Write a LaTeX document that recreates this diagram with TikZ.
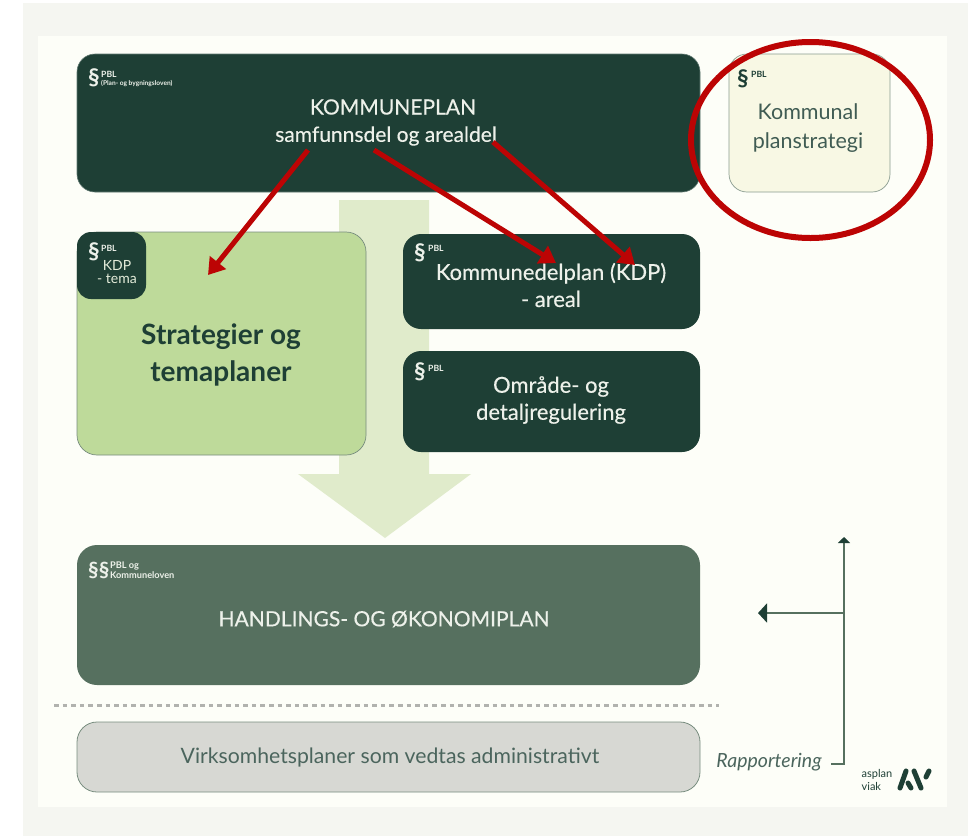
\documentclass[tikz,border=0pt]{standalone}
\usepackage{fontspec}
\setmainfont{Lato}
\newfontfamily\medf[FakeBold=0.35]{Lato}
\usetikzlibrary{arrows.meta}
\definecolor{dark}{HTML}{1E3F35}
\definecolor{midg}{HTML}{56705F}
\definecolor{lime}{HTML}{BEDA9A}
\definecolor{pale}{HTML}{E0EBCB}
\definecolor{cream}{HTML}{F8F8E4}
\definecolor{greyb}{HTML}{D7D8D3}
\definecolor{paper}{HTML}{FDFEF8}
\definecolor{outerp}{HTML}{F5F6F1}
\definecolor{redc}{HTML}{BC0404}
\definecolor{txt}{HTML}{EDF1EA}
\tikzset{x=1pt,y=-1pt,
 panel/.style={rounded corners=#1,inner sep=0pt,outer sep=0pt},
 boxtext/.style={align=center,text=txt,font=\medf\fontsize{22}{27}\selectfont,inner sep=0pt},
 para/.style={anchor=west,text=txt,font=\bfseries\fontsize{23}{23}\selectfont,inner sep=0pt},
 small/.style={anchor=west,text=txt,font=\bfseries\fontsize{8.6}{9}\selectfont,inner sep=0pt,align=left},
 redarrow/.style={draw=redc,line width=5pt,-{Triangle[length=16pt,width=20pt]}},
 reportline/.style={draw=midg,line width=1.6pt},
 logostroke/.style={dark,line width=5pt,line cap=round}}
\begin{document}
\begin{tikzpicture}
\useasboundingbox (0,0) rectangle (968,836);
\fill[white] (0,0) rectangle (968,836);
\fill[outerp] (23,3) rectangle (968,836);
\fill[paper] (38,36) rectangle (947,807);
% big pale arrow
\fill[pale] (339,200) -- (429,200) -- (429,474) -- (471,474) -- (385,538) -- (298,474) -- (339,474) -- cycle;
% boxes
\draw[panel=18pt,fill=dark,draw=dark!70!white,line width=.6pt] (77,54) rectangle (700,192);
\coordinate (kpA) at (308,150);
\coordinate (kpB) at (374,150);
\coordinate (kpC) at (493,142);
\node[boxtext,font=\medf\fontsize{21}{24}\selectfont] (kp) at (393,107) {KOMMUNEPLAN};
\node[boxtext,font=\medf\fontsize{21}{24}\selectfont] (kp2) at (386,136) {samfunnsdel og arealdel};
\node[para] (kps) at (88,78) {§};
\node[small] (kpp) at (101,74) {PBL};
\node[small,font=\bfseries\fontsize{6.6}{7}\selectfont] (kpq) at (101,84) {(Plan- og bygningsloven)};

\draw[panel=18pt,fill=cream,draw=midg!70!white,line width=.7pt] (729,54) rectangle (890,192);
\node[para,text=dark] (ss) at (737,79) {§};
\node[small,text=dark] (sp) at (751,74) {PBL};
\node[boxtext,text=dark!85!white,font=\fontsize{21.5}{29}\selectfont] (ks) at (808,128) {Kommunal\\planstrategi};

\draw[panel=20pt,fill=lime,draw=midg!80!white,line width=.7pt] (77,232) rectangle (366,455);
\draw[panel=14pt,fill=dark,draw=none] (77,232) rectangle (146,299);
\node[para] (ts) at (88,252) {§};
\node[small] (tp) at (101,248) {PBL};
\node[align=center,text=txt!80!lime,font=\fontsize{14}{13}\selectfont,inner sep=0pt] (tk) at (117,272) {KDP\\- tema};
\node[align=center,text=dark,font=\bfseries\fontsize{28}{37}\selectfont,inner sep=0pt] (st) at (221,355) {Strategier og\\temaplaner};
\coordinate (stT) at (208,275);

\draw[panel=18pt,fill=dark,draw=none] (403,234) rectangle (700,329);
\node[para] (as) at (414,253) {§};
\node[small] (ap) at (428,248) {PBL};
\node[boxtext] (kdp) at (551,285) {Kommunedelplan (KDP)\\- areal};
\coordinate (kdpA) at (556,263);
\coordinate (kdpB) at (635,265);

\draw[panel=18pt,fill=dark,draw=none] (403,351) rectangle (700,452);
\node[para] (os) at (414,372) {§};
\node[small] (op) at (428,368) {PBL};
\node[boxtext] (od) at (551,400) {Område- og\\detaljregulering};

\draw[panel=20pt,fill=midg,draw=none] (77,545) rectangle (700,685);
\node[para,font=\bfseries\fontsize{21}{21}\selectfont] (hs) at (88,570) {§§};
\node[small,font=\bfseries\fontsize{9.2}{10.5}\selectfont] (hp) at (110,570) {PBL og\\Kommuneloven};
\node[boxtext,font=\medf\fontsize{21}{24}\selectfont] (hp2) at (384,619) {HANDLINGS- OG ØKONOMIPLAN};

\draw[dash pattern=on 4.6pt off 4pt,line width=3pt,draw=black!30!paper] (54,705) -- (719,705);

\draw[panel=20pt,fill=greyb,draw=midg!80!white,line width=.8pt] (77,722) rectangle (700,792);
\node[boxtext,text=dark!80!white,font=\fontsize{21.2}{24}\selectfont] (vp) at (390,757) {Virksomhetsplaner som vedtas administrativt};

% reporting
\node[inner sep=0pt,text=dark!80!white,font=\itshape\fontsize{19.5}{20}\selectfont] (rap) at (769,762) {Rapportering};
\coordinate (r0) at (831,764);
\coordinate (r1) at (844,764);
\coordinate (r2) at (844,537);
\coordinate (r3) at (844,613);
\coordinate (r4) at (758,613);
\draw[reportline,-{Triangle[length=6pt,width=12pt,color=dark]}] (r0) -- (r1) -- (r2);
\draw[reportline,line width=2pt,-{Triangle[length=9pt,width=19pt,color=dark]}] (r3) -- (r4);

% logo
\node[inner sep=0pt,align=left,text=dark,font=\fontsize{11}{12.5}\selectfont] (lg) at (877,780) {asplan\\viak};
\draw[logostroke] (900,788) -- (906,771);
\draw[logostroke] (908,783) -- (911,788);
\draw[logostroke] (914,771) -- (921,788);
\draw[logostroke] (926,777) -- (929,771);

% red arrows
\draw[redarrow] (kpA) -- (stT);
\draw[redarrow] (kpB) -- (kdpA);
\draw[redarrow] (kpC) -- (kdpB);
\draw[draw=redc,line width=6pt] (810.5,140) ellipse [x radius=119.5,y radius=98];
\end{tikzpicture}
\end{document}
